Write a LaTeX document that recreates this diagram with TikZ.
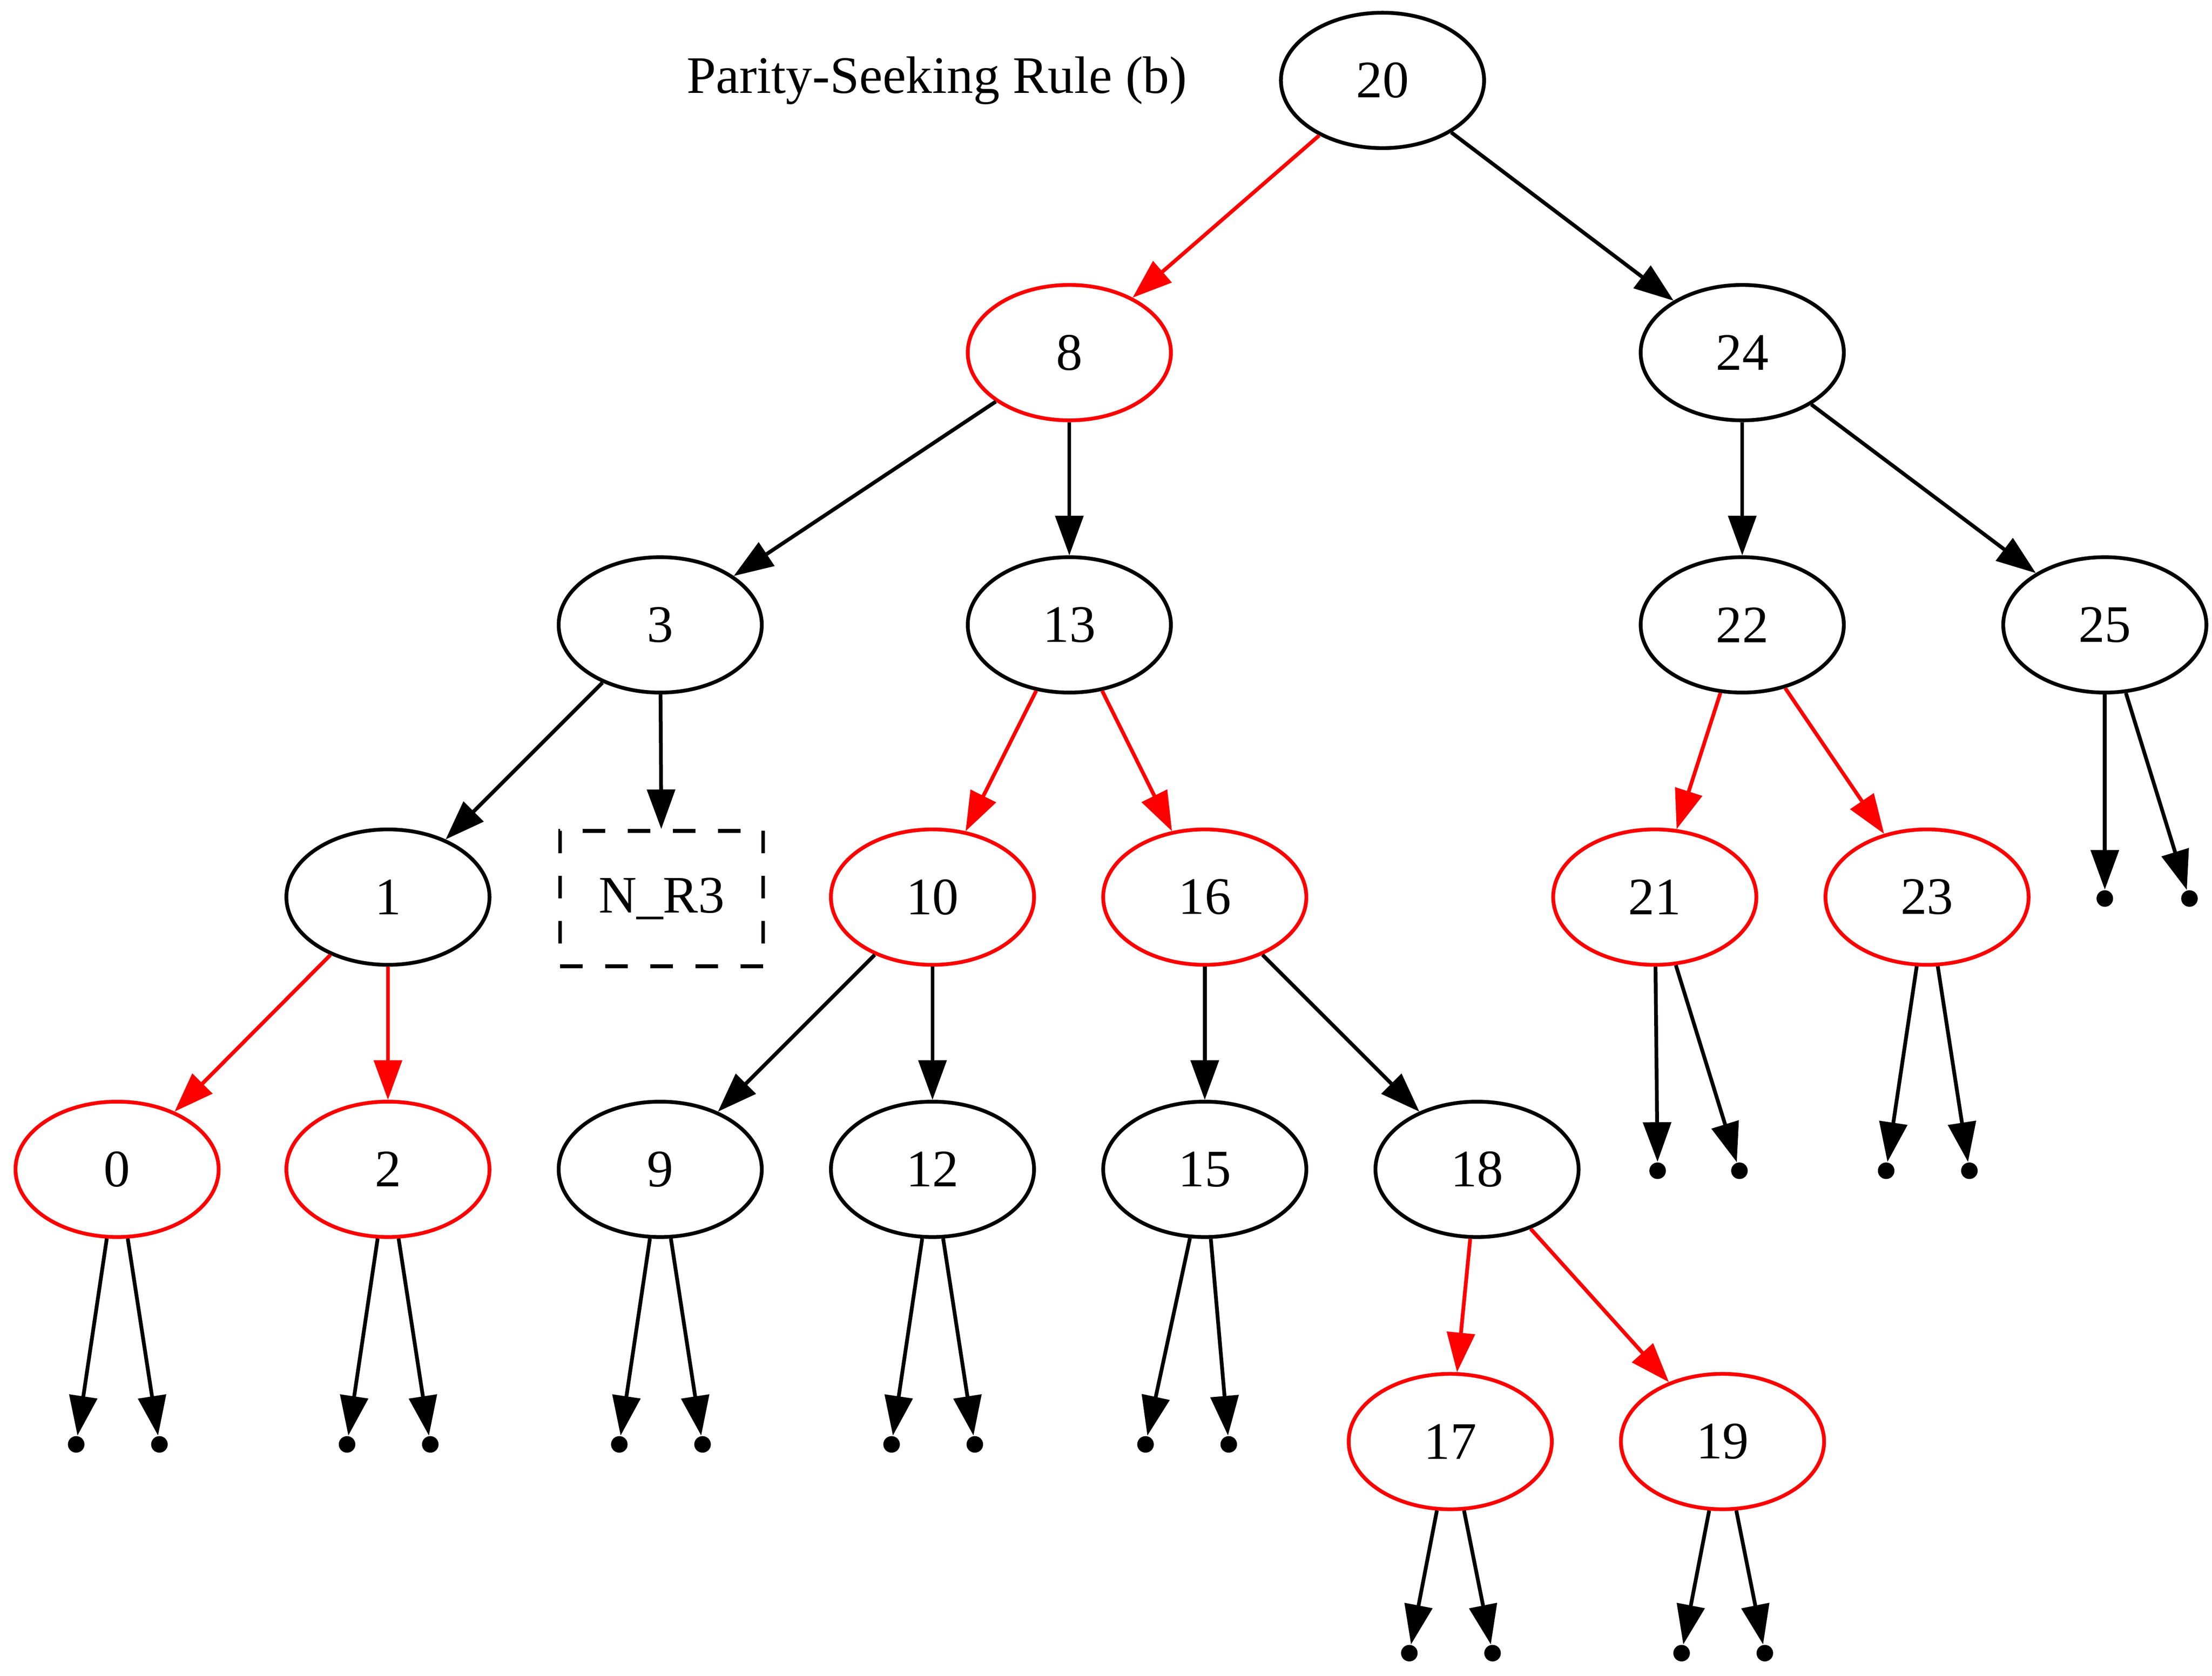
\documentclass[tikz,border=0pt]{standalone}
\usepackage{fontspec}
\setmainfont{Liberation Serif}
\usetikzlibrary{shapes.geometric,arrows.meta}
\begin{document}
\begin{tikzpicture}[x=0.375pt,y=-0.375pt,
  every node/.style={font=\fontsize{14}{16}\selectfont},
  bn/.style={ellipse,draw=black,line width=1pt,minimum width=54pt,minimum height=36pt,inner sep=0pt},
  rn/.style={bn,draw=red},
  leafpt/.style={circle,fill=black,inner sep=0pt,minimum size=4.4pt},
  nbox/.style={rectangle,draw=black,dash pattern=on 6pt off 6pt,line width=1pt,minimum width=54pt,minimum height=36pt,inner sep=0pt},
  bedge/.style={-{Triangle[length=10.5pt,width=7.5pt,line width=0.6pt]},line width=1pt,draw=black},
  redge/.style={bedge,draw=red,fill=red}]
\useasboundingbox (0,0) rectangle (1568,1188);
\node (title) at (664,57) {Parity-Seeking Rule (b)};
% internal nodes
\node[bn] (n20) at (980,57) {20};
\node[rn] (n8) at (758,250) {8};
\node[bn] (n24) at (1235,250) {24};
\node[bn] (n3) at (468,443) {3};
\node[bn] (n13) at (758,443) {13};
\node[bn] (n22) at (1235,443) {22};
\node[bn] (n25) at (1492,443) {25};
\node[bn] (n1) at (275,636) {1};
\node[nbox] (nr3) at (469,637) {N\_R3};
\node[rn] (n10) at (661,636) {10};
\node[rn] (n16) at (854,636) {16};
\node[rn] (n21) at (1173,636) {21};
\node[rn] (n23) at (1366,636) {23};
\node[rn] (n0) at (83,829) {0};
\node[rn] (n2) at (275,829) {2};
\node[bn] (n9) at (468,829) {9};
\node[bn] (n12) at (661,829) {12};
\node[bn] (n15) at (854,829) {15};
\node[bn] (n18) at (1047,829) {18};
\node[rn] (n17) at (1028,1022) {17};
\node[rn] (n19) at (1221,1022) {19};
% leaf points
\node[leafpt] (l0a) at (54,1024) {};
\node[leafpt] (l0b) at (113,1024) {};
\node[leafpt] (l2a) at (246,1024) {};
\node[leafpt] (l2b) at (305,1024) {};
\node[leafpt] (l9a) at (439,1024) {};
\node[leafpt] (l9b) at (498,1024) {};
\node[leafpt] (l12a) at (632,1024) {};
\node[leafpt] (l12b) at (691,1024) {};
\node[leafpt] (l15a) at (812,1024) {};
\node[leafpt] (l15b) at (871,1024) {};
\node[leafpt] (l17a) at (999,1172) {};
\node[leafpt] (l17b) at (1058,1172) {};
\node[leafpt] (l19a) at (1192,1172) {};
\node[leafpt] (l19b) at (1251,1172) {};
\node[leafpt] (l21a) at (1175,830) {};
\node[leafpt] (l21b) at (1233,830) {};
\node[leafpt] (l23a) at (1337,830) {};
\node[leafpt] (l23b) at (1396,830) {};
\node[leafpt] (l25a) at (1492,637) {};
\node[leafpt] (l25b) at (1552,637) {};
% edges
\draw[redge] (n20) -- (n8);
\draw[bedge] (n20) -- (n24);
\draw[bedge] (n8) -- (n3);
\draw[bedge] (n8) -- (n13);
\draw[bedge] (n24) -- (n22);
\draw[bedge] (n24) -- (n25);
\draw[bedge] (n3) -- (n1);
\draw[bedge] (n3) -- (nr3);
\draw[redge] (n13) -- (n10);
\draw[redge] (n13) -- (n16);
\draw[redge] (n22) -- (n21);
\draw[redge] (n22) -- (n23);
\draw[redge] (n1) -- (n0);
\draw[redge] (n1) -- (n2);
\draw[bedge] (n10) -- (n9);
\draw[bedge] (n10) -- (n12);
\draw[bedge] (n16) -- (n15);
\draw[bedge] (n16) -- (n18);
\draw[redge] (n18) -- (n17);
\draw[redge] (n18) -- (n19);
% leaf edges
\draw[bedge] (n0) -- (l0a);
\draw[bedge] (n0) -- (l0b);
\draw[bedge] (n2) -- (l2a);
\draw[bedge] (n2) -- (l2b);
\draw[bedge] (n9) -- (l9a);
\draw[bedge] (n9) -- (l9b);
\draw[bedge] (n12) -- (l12a);
\draw[bedge] (n12) -- (l12b);
\draw[bedge] (n15) -- (l15a);
\draw[bedge] (n15) -- (l15b);
\draw[bedge] (n17) -- (l17a);
\draw[bedge] (n17) -- (l17b);
\draw[bedge] (n19) -- (l19a);
\draw[bedge] (n19) -- (l19b);
\draw[bedge] (n21) -- (l21a);
\draw[bedge] (n21) -- (l21b);
\draw[bedge] (n23) -- (l23a);
\draw[bedge] (n23) -- (l23b);
\draw[bedge] (n25) -- (l25a);
\draw[bedge] (n25) -- (l25b);
\end{tikzpicture}
\end{document}
